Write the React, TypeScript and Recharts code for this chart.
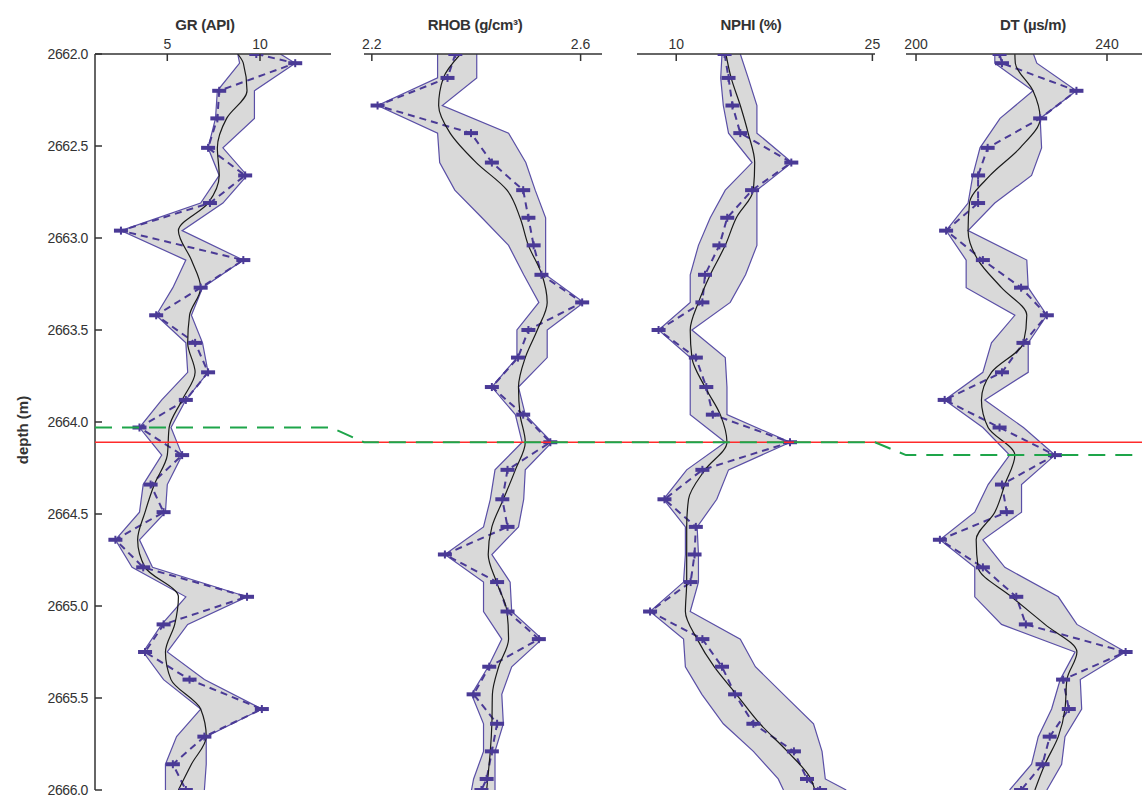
import React from "react";
import { ComposedChart, Area, Line, XAxis, YAxis, ReferenceLine } from "recharts";

const FONT = "'Liberation Sans', Arial, sans-serif";
const NAVY = "#4a3a96";
const INK = "#333";
const HEIGHT = 801;

const depthTicks = [2662, 2662.5, 2663, 2663.5, 2664, 2664.5, 2665, 2665.5, 2666];

// GR and DT are sampled on the same depths, RHOB and NPHI on a shifted set
const depthA = [2662.0, 2662.05, 2662.2, 2662.35, 2662.51, 2662.66, 2662.81, 2662.96, 2663.12, 2663.27, 2663.42, 2663.57, 2663.73, 2663.88, 2664.03, 2664.18, 2664.34, 2664.49, 2664.64, 2664.79, 2664.95, 2665.1, 2665.25, 2665.4, 2665.56, 2665.71, 2665.86, 2666.0];
const depthB = [2662.0, 2662.13, 2662.28, 2662.43, 2662.59, 2662.74, 2662.89, 2663.04, 2663.2, 2663.35, 2663.5, 2663.65, 2663.81, 2663.96, 2664.11, 2664.26, 2664.42, 2664.57, 2664.72, 2664.87, 2665.03, 2665.18, 2665.33, 2665.48, 2665.64, 2665.79, 2665.94, 2666.0];

const grMeasured = [9.8, 11.9, 7.8, 7.7, 7.2, 9.2, 7.3, 2.5, 9.1, 6.8, 4.4, 6.5, 7.2, 6.0, 3.5, 5.8, 4.1, 4.8, 2.2, 3.7, 9.3, 4.8, 3.8, 6.2, 10.1, 7.0, 5.3, 6.0];
const grSmooth = [8.8, 9.1, 9.3, 8.2, 7.7, 7.8, 7.2, 5.6, 6.3, 6.8, 6.2, 6.1, 6.5, 5.8, 5.1, 5.0, 4.3, 3.8, 3.4, 3.8, 5.6, 5.4, 4.9, 5.2, 6.8, 7.1, 6.3, 5.6];
const grLow = [8.8, 8.9, 7.7, 7.6, 7.2, 7.8, 6.8, 2.5, 6.0, 5.3, 4.4, 6.0, 6.1, 4.7, 3.5, 4.7, 3.7, 3.5, 2.2, 3.1, 6.0, 4.7, 3.7, 4.8, 6.8, 5.5, 4.9, 4.9];
const grHigh = [11.1, 11.9, 9.7, 9.7, 8.0, 9.3, 8.0, 5.8, 9.1, 6.9, 6.3, 6.9, 7.2, 6.0, 5.2, 5.8, 5.0, 4.9, 3.5, 4.2, 9.3, 6.1, 5.0, 7.0, 10.1, 7.1, 7.1, 7.0];

const rhobMeasured = [2.36, 2.345, 2.211, 2.39, 2.43, 2.49, 2.5, 2.51, 2.525, 2.603, 2.5, 2.48, 2.43, 2.49, 2.542, 2.46, 2.45, 2.46, 2.34, 2.44, 2.46, 2.52, 2.425, 2.395, 2.44, 2.43, 2.42, 2.41];
const rhobSmooth = [2.37, 2.337, 2.328, 2.35, 2.4, 2.459, 2.484, 2.5, 2.526, 2.536, 2.517, 2.494, 2.481, 2.484, 2.494, 2.475, 2.452, 2.43, 2.423, 2.439, 2.459, 2.462, 2.443, 2.431, 2.43, 2.427, 2.422, 2.42];
const rhobLow = [2.326, 2.326, 2.211, 2.326, 2.33, 2.359, 2.411, 2.462, 2.491, 2.52, 2.478, 2.478, 2.43, 2.475, 2.488, 2.436, 2.427, 2.414, 2.34, 2.414, 2.414, 2.449, 2.423, 2.391, 2.414, 2.414, 2.395, 2.391];
const rhobHigh = [2.401, 2.401, 2.335, 2.462, 2.495, 2.513, 2.533, 2.533, 2.533, 2.606, 2.536, 2.536, 2.481, 2.494, 2.545, 2.494, 2.491, 2.481, 2.43, 2.465, 2.468, 2.526, 2.468, 2.449, 2.452, 2.436, 2.436, 2.436];

const nphiMeasured = [13.7, 14.0, 14.3, 14.9, 18.8, 15.8, 13.9, 13.3, 12.2, 12.0, 8.65, 11.5, 12.3, 12.8, 18.7, 12.0, 9.1, 11.5, 11.4, 11.1, 8.0, 12.0, 13.5, 14.5, 15.9, 19.0, 20.0, 21.0];
const nphiSmooth = [13.8, 14.2, 14.9, 15.5, 16.0, 15.9, 14.6, 13.75, 12.6, 11.7, 11.07, 11.2, 12.2, 13.37, 13.88, 12.2, 10.94, 10.8, 10.8, 10.8, 10.7, 11.6, 12.9, 14.6, 16.4, 18.5, 20.3, 20.6];
const nphiLow = [13.5, 13.4, 13.6, 14.0, 15.8, 13.75, 12.6, 11.7, 11.07, 11.07, 8.65, 11.07, 11.07, 11.07, 13.75, 10.8, 9.03, 10.7, 10.7, 10.56, 8.0, 10.56, 10.7, 11.96, 13.6, 15.9, 17.8, 18.2];
const nphiHigh = [14.9, 15.5, 16.17, 16.17, 18.85, 16.17, 16.17, 16.17, 15.3, 14.13, 11.2, 13.75, 13.88, 13.88, 18.72, 14.0, 13.1, 11.6, 11.7, 11.7, 11.07, 14.9, 16.05, 18.2, 20.5, 21.15, 21.4, 23.0];

const dtMeasured = [217.5, 218.0, 233.6, 226.0, 215.0, 213.0, 213.0, 206.3, 214.0, 222.0, 227.4, 222.5, 218.0, 206.0, 217.5, 229.1, 218.0, 219.0, 205.0, 214.0, 221.0, 223.0, 243.9, 230.8, 232.0, 228.0, 226.5, 222.0];
const dtSmooth = [220.7, 220.8, 224.5, 226.0, 221.8, 215.5, 211.2, 210.9, 213.0, 217.9, 223.2, 222.5, 215.8, 213.7, 215.1, 220.7, 218.6, 216.5, 212.6, 213.0, 220.0, 227.0, 233.7, 231.6, 231.2, 229.8, 227.0, 224.9];
const dtLow = [216.5, 216.5, 224.5, 217.6, 213.4, 211.9, 210.9, 206.3, 210.5, 210.5, 220.7, 215.8, 214.0, 206.0, 214.0, 219.6, 215.1, 212.3, 205.0, 212.3, 212.3, 217.9, 233.3, 230.2, 228.4, 225.6, 224.2, 219.6];
const dtHigh = [224.6, 225.3, 233.6, 226.0, 226.3, 224.2, 216.5, 210.9, 223.2, 223.5, 227.4, 223.5, 223.5, 214.4, 222.5, 229.1, 222.1, 222.1, 214.0, 218.6, 229.8, 233.7, 243.9, 234.4, 234.7, 231.2, 230.5, 227.4];

// red marker depth and the matched (green) depth in each track
const markerDepth = 2664.11;
const tieDepth = [2664.03, 2664.11, 2664.11, 2664.18];

function buildRows(depth: number[], measured: number[], smooth: number[], low: number[], high: number[]) {
  return depth.map((d, i) => ({ depth: d, measured: measured[i], smooth: smooth[i], band: [low[i], high[i]] }));
}

// left = x of the plot's left border on the page
const tracks = [
  { title: "GR (API)", rows: buildRows(depthA, grMeasured, grSmooth, grLow, grHigh), domain: [1.1, 13.83], ticks: [5, 10], left: 95, axisWidth: 95, plotWidth: 236, titleDx: -8 },
  { title: "RHOB (g/cm³)", rows: buildRows(depthB, rhobMeasured, rhobSmooth, rhobLow, rhobHigh), domain: [2.185, 2.641], ticks: [2.2, 2.6], left: 364, axisWidth: 0, plotWidth: 238, titleDx: -8 },
  { title: "NPHI (%)", rows: buildRows(depthB, nphiMeasured, nphiSmooth, nphiLow, nphiHigh), domain: [7.0, 25.2], ticks: [10, 25], left: 637, axisWidth: 0, plotWidth: 238, titleDx: -5 },
  { title: "DT (µs/m)", rows: buildRows(depthA, dtMeasured, dtSmooth, dtLow, dtHigh), domain: [197.9, 247.75], ticks: [200, 240], left: 906, axisWidth: 0, plotWidth: 238, titleDx: 8 },
];

const TOP = 54;
const BOTTOM_GAP = 11;
const PAD = 20;

function TopTick(props: any) {
  const { x, y, payload } = props;
  return (
    <g>
      <line x1={x} x2={x} y1={y} y2={y + 7} stroke={INK} strokeWidth={1.5} />
      <text x={x} y={y - 5} textAnchor="middle" fontSize={14} fill={INK} fontFamily={FONT}>
        {payload.value}
      </text>
    </g>
  );
}

function makeDepthTick(showLabel: boolean) {
  return (props: any) => {
    const { x, y, payload } = props;
    return (
      <g>
        <line x1={x} x2={x + 7} y1={y} y2={y} stroke={INK} strokeWidth={1.5} />
        {showLabel && (
          <text x={x - 7} y={y + 5} textAnchor="end" fontSize={14} fill={INK} fontFamily={FONT} letterSpacing={-0.4}>
            {payload.value.toFixed(1)}
          </text>
        )}
      </g>
    );
  };
}

function renderMark(p: any) {
  const { cx, cy, index } = p;
  if (cx == null || cy == null) return <g key={`m${index}`} />;
  return (
    <g key={`m${index}`}>
      <rect x={cx - 7} y={cy - 2} width={14} height={4} fill={NAVY} />
      <rect x={cx - 1} y={cy - 4} width={2} height={8} fill={NAVY} />
    </g>
  );
}

function Track({ t, first }: { t: (typeof tracks)[number]; first: boolean }) {
  const padL = first ? 0 : PAD;
  const chartLeft = t.left - t.axisWidth - padL;
  const width = padL + t.axisWidth + t.plotWidth + PAD;
  const centre = padL + t.axisWidth + t.plotWidth / 2 + t.titleDx;
  return (
    <div style={{ position: "absolute", left: chartLeft, top: 0 }}>
      <ComposedChart
        layout="vertical"
        width={width}
        height={HEIGHT}
        data={t.rows}
        margin={{ top: 0, right: PAD, bottom: BOTTOM_GAP, left: padL }}
      >
        <XAxis
          type="number"
          orientation="top"
          domain={t.domain}
          allowDataOverflow
          ticks={t.ticks}
          interval={0}
          height={TOP}
          tickSize={0}
          tickMargin={0}
          tickLine={false}
          tick={<TopTick />}
          axisLine={{ stroke: INK, strokeWidth: 1.5 }}
        />
        <XAxis
          xAxisId="b"
          type="number"
          orientation="bottom"
          domain={t.domain}
          allowDataOverflow
          height={0}
          tick={false}
          tickLine={false}
          axisLine={{ stroke: INK, strokeWidth: 1.5 }}
        />
        <YAxis
          type="number"
          dataKey="depth"
          domain={[2662, 2666]}
          allowDataOverflow
          ticks={depthTicks}
          interval={0}
          width={t.axisWidth}
          tickSize={0}
          tickMargin={0}
          tickLine={false}
          tick={makeDepthTick(first)}
          axisLine={{ stroke: INK, strokeWidth: 1.5 }}
        />
        <YAxis
          yAxisId="r"
          type="number"
          dataKey="depth"
          orientation="right"
          domain={[2662, 2666]}
          allowDataOverflow
          width={0}
          tick={false}
          tickLine={false}
          axisLine={{ stroke: INK, strokeWidth: 1.5 }}
        />
        <Area
          type="linear"
          dataKey="band"
          fill="#d9d9d9"
          fillOpacity={1}
          stroke="#5a4fa6"
          strokeWidth={1.2}
          dot={false}
          activeDot={false}
          isAnimationActive={false}
        />
        <Line
          type="linear"
          dataKey="measured"
          stroke={NAVY}
          strokeWidth={2}
          strokeDasharray="7 5"
          dot={renderMark}
          activeDot={false}
          isAnimationActive={false}
        />
        <Line
          type="monotone"
          dataKey="smooth"
          stroke="#1a1a1a"
          strokeWidth={1.2}
          dot={false}
          activeDot={false}
          isAnimationActive={false}
        />
        <text
          x={centre}
          y={30}
          textAnchor="middle"
          fontSize={15}
          fontWeight="bold"
          fill={INK}
          fontFamily={FONT}
          letterSpacing={-0.3}
        >
          {t.title}
        </text>
        {first && (
          <text
            x={28}
            y={430}
            transform="rotate(-90, 28, 430)"
            textAnchor="middle"
            fontSize={15}
            fontWeight="bold"
            fill={INK}
            fontFamily={FONT}
          >
            depth (m)
          </text>
        )}
      </ComposedChart>
    </div>
  );
}

export default function App() {
  const gr = tracks[0];
  const rhob = tracks[1];
  const nphi = tracks[2];
  const dt = tracks[3];
  const start = gr.left;
  const end = dt.left + dt.plotWidth;
  // green depth-tie line: flat across each track, sloping across the gaps
  const tiePoints = [
    { x: start, depth: tieDepth[0] },
    { x: gr.left + gr.plotWidth, depth: tieDepth[0] },
    { x: rhob.left, depth: tieDepth[1] },
    { x: nphi.left + nphi.plotWidth, depth: tieDepth[2] },
    { x: dt.left, depth: tieDepth[3] },
    { x: end, depth: tieDepth[3] },
  ];

  return (
    <div style={{ position: "absolute", left: 0, top: 0, width: 1142, height: HEIGHT, overflow: "hidden", background: "#fff" }}>
      {tracks.map((t, i) => (
        <Track key={t.title} t={t} first={i === 0} />
      ))}
      <div style={{ position: "absolute", left: 0, top: 0, pointerEvents: "none" }}>
        <ComposedChart
          width={end}
          height={HEIGHT}
          data={tiePoints}
          margin={{ top: TOP, right: 0, bottom: BOTTOM_GAP, left: start }}
        >
          <XAxis type="number" dataKey="x" domain={[start, end]} allowDataOverflow hide />
          <YAxis type="number" dataKey="depth" domain={[2662, 2666]} allowDataOverflow reversed hide />
          <ReferenceLine y={markerDepth} stroke="#ff2b2b" strokeWidth={1.6} />
          <Line
            type="linear"
            dataKey="depth"
            stroke="#1ea54a"
            strokeWidth={2}
            strokeDasharray="17 10"
            dot={false}
            activeDot={false}
            isAnimationActive={false}
          />
        </ComposedChart>
      </div>
    </div>
  );
}
